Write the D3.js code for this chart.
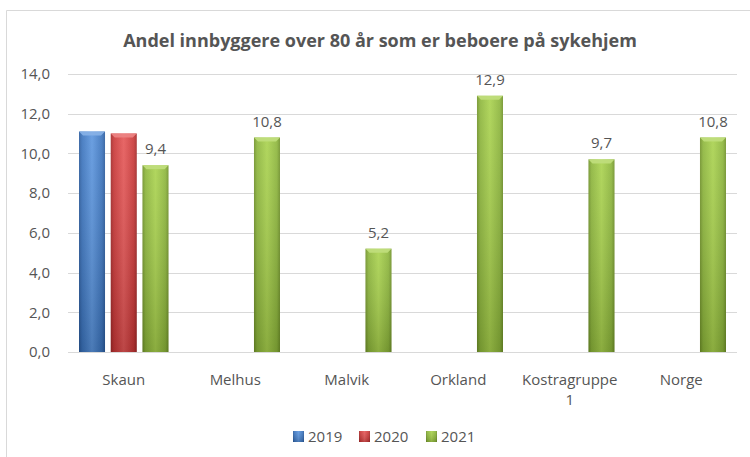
<!DOCTYPE html>
<html>
<head>
<meta charset="utf-8">
<script src="https://cdn.jsdelivr.net/npm/d3@7"></script>
<style>
  body { margin: 0; background: #fff; }
  text { font-family: "Open Sans", "Noto Sans", sans-serif; fill: #555; }
</style>
</head>
<body>
<svg id="chart" width="750" height="457"></svg>
<script>
const categories = ["Skaun", "Melhus", "Malvik", "Orkland", "Kostragruppe 1", "Norge"];
const years = ["2019", "2020", "2021"];
const values2019 = [11.1, null, null, null, null, null];
const values2020 = [11.0, null, null, null, null, null];
const values2021 = [9.4, 10.8, 5.2, 12.9, 9.7, 10.8];
const yTicks = [0, 2, 4, 6, 8, 10, 12, 14];
const colors = { "2019": ["#5b95de", "#3a73bd", "#2a5a9c"], "2020": ["#e55656", "#c93636", "#a12727"], "2021": ["#a9d24d", "#8cb53a", "#6f9128"] };

const series = [values2019, values2020, values2021];
const fmt = v => d3.format(".1f")(v).replace(".", ",");

const svg = d3.select("#chart");
const margin = { left: 68, right: 13, top: 74, bottom: 105 };
const W = 750, H = 457;
const fs = 15;

// outer frame
svg.append("path").attr("d", `M6.5,${H} V10.5 H${W}`).attr("fill", "none").attr("stroke", "#d9d9d9");

const x = d3.scaleBand().domain(categories).range([margin.left, W - margin.right]);
const xi = d3.scaleBand().domain(years).range([11, x.bandwidth() - 11]).paddingInner(0.18);
const y = d3.scaleLinear().domain([0, 14]).range([352, 74]);

const defs = svg.append("defs");
years.forEach(yr => {
  const c = colors[yr];
  const g = defs.append("linearGradient").attr("id", "h" + yr).attr("x1", 0).attr("x2", 1).attr("y1", 0).attr("y2", 0);
  g.append("stop").attr("offset", 0).attr("stop-color", c[2]);
  g.append("stop").attr("offset", 0.12).attr("stop-color", c[1]);
  g.append("stop").attr("offset", 0.5).attr("stop-color", c[0]);
  g.append("stop").attr("offset", 0.88).attr("stop-color", c[1]);
  g.append("stop").attr("offset", 1).attr("stop-color", c[2]);
});
const vg = defs.append("linearGradient").attr("id", "shade").attr("x1", 0).attr("x2", 0).attr("y1", 0).attr("y2", 1);
vg.append("stop").attr("offset", 0).attr("stop-color", "#fff").attr("stop-opacity", 0.1);
vg.append("stop").attr("offset", 1).attr("stop-color", "#000").attr("stop-opacity", 0.18);

// gridlines
svg.append("g").selectAll("line").data(yTicks).join("line")
  .attr("x1", margin.left).attr("x2", W - margin.right)
  .attr("y1", d => Math.round(y(d)) + 0.5).attr("y2", d => Math.round(y(d)) + 0.5)
  .attr("stroke", "#d9d9d9");

// y labels
svg.append("g").selectAll("text").data(yTicks).join("text")
  .attr("x", 50).attr("y", d => y(d)).attr("dy", "0.35em")
  .attr("text-anchor", "end").attr("font-size", fs)
  .text(fmt);

// bars
years.forEach((yr, i) => {
  const data = categories.map((c, k) => ({ c, v: series[i][k] })).filter(d => d.v != null);
  const g = svg.append("g");
  const bw = xi.bandwidth();
  const bars = g.selectAll("g").data(data).join("g")
    .attr("transform", d => `translate(${x(d.c) + xi(yr)},0)`);
  bars.append("rect").attr("x", 0).attr("width", bw)
    .attr("y", d => y(d.v)).attr("height", d => y(0) - y(d.v))
    .attr("fill", `url(#h${yr})`);
  bars.append("rect").attr("x", 0).attr("width", bw)
    .attr("y", d => y(d.v)).attr("height", d => y(0) - y(d.v))
    .attr("fill", "url(#shade)");
  // top bevel
  bars.append("path")
    .attr("d", d => `M0,${y(d.v)} H${bw} L${bw - 4},${y(d.v) + 4} H4 Z`)
    .attr("fill", colors[yr][0]).attr("opacity", 0.9);
  bars.append("path")
    .attr("d", d => `M0,${y(d.v)} H${bw} L${bw - 4},${y(d.v) + 4} H4 Z`)
    .attr("fill", "#fff").attr("opacity", 0.25);
  if (yr === "2021") {
    bars.append("text").attr("x", bw / 2).attr("y", d => y(d.v) - 11)
      .attr("text-anchor", "middle").attr("font-size", fs)
      .text(d => fmt(d.v));
  }
});

// x labels
svg.append("g").selectAll("text").data(categories).join("text")
  .attr("x", d => x(d) + x.bandwidth() / 2).attr("y", 385)
  .attr("text-anchor", "middle").attr("font-size", fs)
  .each(function (d) {
    const parts = d === "Kostragruppe 1" ? ["Kostragruppe", "1"] : [d];
    d3.select(this).selectAll("tspan").data(parts).join("tspan")
      .attr("x", x(d) + x.bandwidth() / 2).attr("dy", (p, j) => j ? 20 : 0).text(p => p);
  });

// title
svg.append("text").attr("x", 380).attr("y", 47).attr("text-anchor", "middle")
  .attr("font-size", 18).attr("font-weight", "bold").text("Andel innbyggere over 80 år som er beboere på sykehjem");

// legend
const legendX = [293, 359, 426];
const lg = svg.append("g").selectAll("g").data(years).join("g")
  .attr("transform", (d, i) => `translate(${legendX[i]},431)`);
lg.append("rect").attr("width", 11).attr("height", 11).attr("fill", d => `url(#h${d})`);
lg.append("rect").attr("width", 11).attr("height", 11).attr("fill", "url(#shade)");
lg.append("text").attr("x", 15).attr("y", 6).attr("dy", "0.35em").attr("font-size", fs).text(d => d);
</script>
</body>
</html>
